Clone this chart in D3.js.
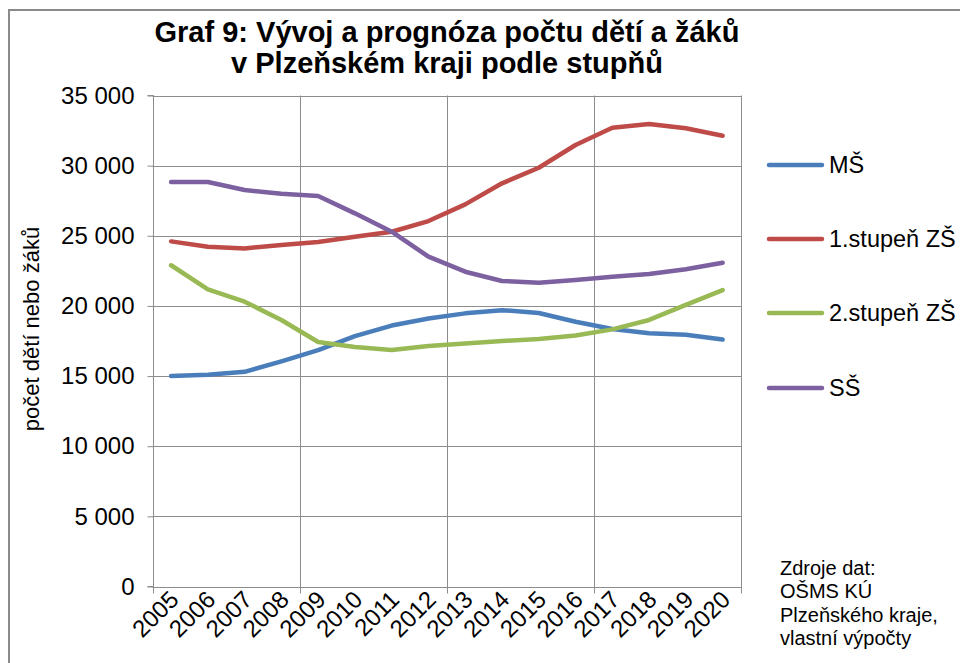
<!DOCTYPE html>
<html><head><meta charset="utf-8">
<script src="https://cdn.jsdelivr.net/npm/d3@7"></script>
<style>html,body{margin:0;padding:0;background:#fff;}svg{display:block;font-family:"Liberation Sans",Arial,sans-serif;}</style>
</head><body>
<script>
const years = ["2005","2006","2007","2008","2009","2010","2011","2012","2013","2014","2015","2016","2017","2018","2019","2020"];
const seriesNames = ["MŠ","1.stupeň ZŠ","2.stupeň ZŠ","SŠ"];
const msValues = [15000,15100,15300,16050,16850,17850,18600,19100,19470,19700,19500,18870,18350,18050,17950,17600];
const zs1Values = [24600,24220,24100,24350,24550,24930,25290,26050,27240,28740,29850,31470,32700,32970,32660,32130];
const zs2Values = [22900,21180,20300,19000,17430,17070,16860,17140,17320,17500,17640,17890,18330,19000,20070,21130];
const ssValues = [28830,28830,28260,28000,27830,26600,25290,23510,22440,21780,21650,21850,22080,22270,22610,23080];
const yTicks = [0,5000,10000,15000,20000,25000,30000,35000];
const colors = ["#4A7EBB","#BE4B48","#98B954","#7D60A0"];
const titleLines = ["Graf 9: Vývoj a prognóza počtu dětí a žáků","v Plzeňském kraji podle stupňů"];
const yTitle = "počet dětí nebo žáků";
const sourceLines = ["Zdroje dat:","OŠMS KÚ","Plzeňského kraje,","vlastní výpočty"];

const W=960,H=663;
const svg=d3.select("body").append("svg").attr("width",W).attr("height",H);
svg.append("rect").attr("x",9).attr("y",10).attr("width",980).attr("height",700)
  .attr("fill","#fff").attr("stroke","#8a8a8a").attr("stroke-width",2);

const L=152.7,R=741,T=95.5,B=586.5;
const x=d3.scaleBand().domain(years).range([L,R]);
const cx=d=>x(d)+x.bandwidth()/2;
const y=d3.scaleLinear().domain([0,35000]).range([B,T]);

const grid="#8c8c8c";
svg.append("g").selectAll("line").data(yTicks).join("line")
  .attr("x1",L).attr("x2",R).attr("y1",d=>Math.round(y(d))+0.5).attr("y2",d=>Math.round(y(d))+0.5)
  .attr("stroke",grid).attr("stroke-width",1);
const vIdx=[0,4,8,12];
const vPos=vIdx.map(i=>x(years[i])).concat([R]);
svg.append("g").selectAll("line").data(vPos).join("line")
  .attr("x1",d=>Math.round(d)+0.5).attr("x2",d=>Math.round(d)+0.5).attr("y1",T).attr("y2",B+7)
  .attr("stroke",grid).attr("stroke-width",1);
const yAxis=d3.axisLeft(y).tickValues(yTicks).tickSize(6).tickPadding(13)
  .tickFormat(d=>d3.format(",")(d).replace(/,/g," "));
const ya=svg.append("g").attr("transform",`translate(${Math.round(L)+0.5},0)`).call(yAxis);
ya.select(".domain").attr("stroke",grid).attr("d",`M-6,${T}H0V${B}H-6`);
ya.selectAll(".tick line").attr("stroke",grid);
ya.selectAll(".tick text").attr("font-size",24).attr("fill","#000").attr("font-family","Liberation Sans, Arial, sans-serif");

svg.append("g").selectAll("text").data(years).join("text")
  .attr("transform",d=>`translate(${cx(d)+9},601) rotate(-45)`)
  .attr("text-anchor","end").attr("font-size",24).attr("fill","#000").text(d=>d);

const allSeries=[msValues,zs1Values,zs2Values,ssValues];
const line=d3.line().x((d,i)=>cx(years[i])).y(d=>y(d));
svg.append("g").selectAll("path").data(allSeries).join("path")
  .attr("d",d=>line(d)).attr("fill","none").attr("stroke",(d,i)=>colors[i])
  .attr("stroke-width",4.5).attr("stroke-linecap","round").attr("stroke-linejoin","round");

const legY=[165,239,313,388];
const lg=svg.append("g").selectAll("g").data(seriesNames).join("g")
  .attr("transform",(d,i)=>`translate(0,${legY[i]})`);
lg.append("line").attr("x1",769).attr("x2",822).attr("stroke",(d,i)=>colors[i]).attr("stroke-width",4.5).attr("stroke-linecap","round");
lg.append("text").attr("x",829).attr("y",8).attr("font-size",23.5).attr("fill","#000").text(d=>d);

svg.append("g").selectAll("text").data(titleLines).join("text")
  .attr("x",447).attr("y",(d,i)=>42+i*31).attr("text-anchor","middle")
  .attr("font-size",29).attr("font-weight","bold").attr("fill","#000").text(d=>d);

svg.append("text").attr("transform","translate(39,329) rotate(-90)").attr("text-anchor","middle")
  .attr("font-size",22).attr("fill","#000").text(yTitle);

svg.append("g").selectAll("text").data(sourceLines).join("text")
  .attr("x",780).attr("y",(d,i)=>575+i*23.4).attr("font-size",20).attr("fill","#000").text(d=>d);
</script>
</body></html>
